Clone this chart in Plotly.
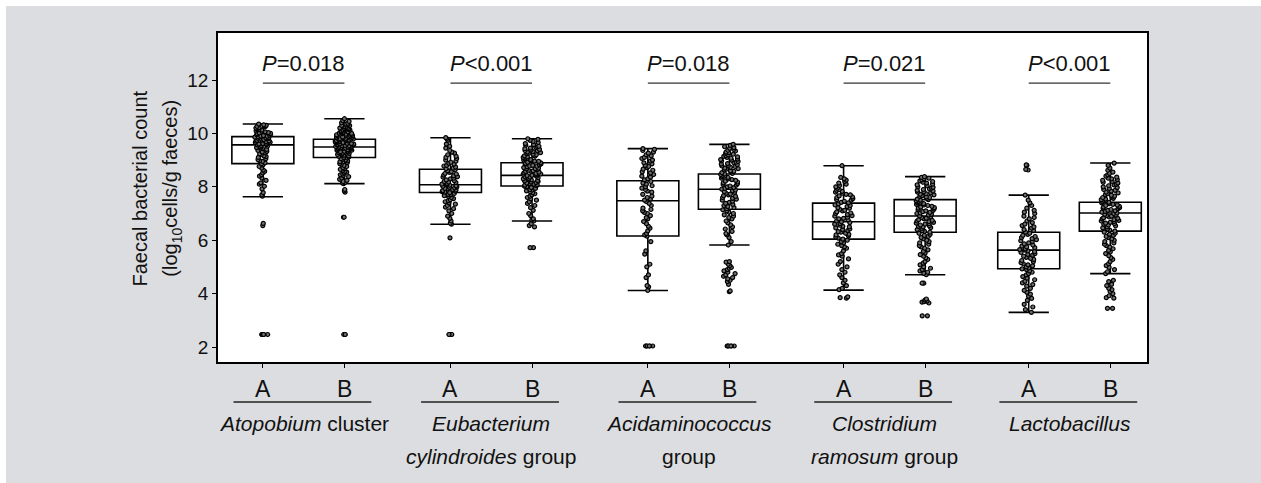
import plotly.graph_objects as go

# ---------------- data ----------------
groups = [
    ["<i>Atopobium</i> cluster"],
    ["<i>Eubacterium</i>", "<i>cylindroides</i> group"],
    ["<i>Acidaminococcus</i>", "group"],
    ["<i>Clostridium</i>", "<i>ramosum</i> group"],
    ["<i>Lactobacillus</i>"],
]
sub_labels = ["A", "B"]
p_texts = ["<i>P</i>=0.018", "<i>P</i>&lt;0.001", "<i>P</i>=0.018", "<i>P</i>=0.021", "<i>P</i>&lt;0.001"]
y_title = ["Faecal bacterial count", "(log<sub>10</sub>cells/g faeces)"]

# box statistics, order: A1, B1, A2, B2, ... A5, B5
q1 = [8.87, 9.10, 7.79, 8.03, 6.16, 7.16, 6.04, 6.30, 4.93, 6.34]
median = [9.57, 9.49, 8.08, 8.43, 7.48, 7.91, 6.69, 6.91, 5.63, 7.02]
q3 = [9.88, 9.78, 8.66, 8.90, 8.23, 8.48, 7.39, 7.52, 6.30, 7.42]
lowerfence = [7.63, 8.12, 6.60, 6.72, 4.12, 5.82, 4.13, 4.71, 3.30, 4.75]
upperfence = [10.35, 10.55, 9.84, 9.80, 9.43, 9.59, 8.79, 8.38, 7.69, 8.89]

a1 = [10.35, 10.32, 10.3, 10.28, 10.26, 10.25, 10.22, 10.2, 10.18, 10.15, 10.14, 10.12, 10.09, 10.08,
      10.06, 10.03, 10.02, 10.0, 9.99, 9.97, 9.95, 9.93, 9.92, 9.9, 9.89, 9.87, 9.86, 9.85, 9.83, 9.82,
      9.8, 9.79, 9.77, 9.75, 9.74, 9.72, 9.71, 9.69, 9.67, 9.66, 9.63, 9.62, 9.6, 9.58, 9.57, 9.55, 9.52,
      9.5, 9.47, 9.45, 9.43, 9.4, 9.36, 9.33, 9.3, 9.27, 9.23, 9.2, 9.16, 9.13, 9.1, 9.05, 9.02, 8.98,
      8.95, 8.9, 8.86, 8.82, 8.76, 8.7, 8.63, 8.58, 8.52, 8.45, 8.4, 8.33, 8.24, 8.15, 8.1, 8.02, 7.92,
      7.78, 7.7, 7.65, 6.63, 6.55, 2.47, 2.47, 2.47, 2.47, 2.47, 2.47]
b1 = [10.55, 10.48, 10.45, 10.4, 10.38, 10.35, 10.33, 10.3, 10.29, 10.27, 10.25, 10.23, 10.22, 10.2,
      10.18, 10.17, 10.15, 10.13, 10.12, 10.1, 10.09, 10.07, 10.06, 10.04, 10.03, 10.01, 10.0, 9.99,
      9.97, 9.96, 9.95, 9.93, 9.92, 9.91, 9.9, 9.88, 9.87, 9.86, 9.85, 9.84, 9.83, 9.82, 9.81, 9.8, 9.79,
      9.78, 9.77, 9.76, 9.75, 9.74, 9.73, 9.72, 9.71, 9.7, 9.69, 9.68, 9.67, 9.66, 9.65, 9.64, 9.63,
      9.62, 9.61, 9.6, 9.59, 9.58, 9.57, 9.56, 9.55, 9.54, 9.53, 9.52, 9.51, 9.5, 9.49, 9.48, 9.47, 9.46,
      9.45, 9.44, 9.43, 9.42, 9.4, 9.39, 9.37, 9.36, 9.34, 9.33, 9.31, 9.3, 9.28, 9.26, 9.25, 9.23, 9.21,
      9.2, 9.18, 9.16, 9.14, 9.12, 9.1, 9.08, 9.05, 9.03, 9.0, 8.97, 8.94, 8.9, 8.87, 8.84, 8.8, 8.76,
      8.72, 8.68, 8.65, 8.62, 8.58, 8.55, 8.52, 8.48, 8.45, 8.42, 8.38, 8.33, 8.28, 8.24, 8.2, 8.17,
      8.14, 8.12, 7.9, 7.85, 7.8, 6.86, 6.86, 2.47, 2.47, 2.47]
a2 = [9.84, 9.8, 9.74, 9.6, 9.52, 9.45, 9.36, 9.3, 9.26, 9.2, 9.14, 9.1, 9.06, 9.0, 8.96, 8.92, 8.88,
      8.85, 8.8, 8.78, 8.74, 8.7, 8.68, 8.64, 8.6, 8.57, 8.54, 8.5, 8.48, 8.44, 8.41, 8.38, 8.36, 8.32,
      8.3, 8.26, 8.23, 8.2, 8.18, 8.16, 8.13, 8.1, 8.09, 8.06, 8.04, 8.02, 8.0, 7.98, 7.96, 7.94, 7.92,
      7.9, 7.88, 7.86, 7.84, 7.82, 7.8, 7.78, 7.75, 7.72, 7.7, 7.67, 7.64, 7.6, 7.56, 7.52, 7.48, 7.44,
      7.4, 7.35, 7.3, 7.24, 7.18, 7.1, 7.0, 6.9, 6.82, 6.72, 6.64, 6.6, 6.09, 2.47, 2.47, 2.47, 2.47]
b2 = [9.8, 9.78, 9.74, 9.7, 9.66, 9.62, 9.58, 9.56, 9.52, 9.5, 9.48, 9.45, 9.43, 9.4, 9.38, 9.36, 9.35,
      9.32, 9.3, 9.28, 9.26, 9.24, 9.22, 9.2, 9.18, 9.16, 9.15, 9.12, 9.1, 9.08, 9.06, 9.05, 9.02, 9.0,
      8.98, 8.96, 8.95, 8.92, 8.9, 8.88, 8.86, 8.85, 8.82, 8.8, 8.78, 8.77, 8.75, 8.72, 8.7, 8.68, 8.67,
      8.65, 8.62, 8.6, 8.58, 8.57, 8.55, 8.52, 8.5, 8.48, 8.47, 8.45, 8.43, 8.42, 8.4, 8.38, 8.36, 8.34,
      8.32, 8.3, 8.28, 8.26, 8.24, 8.22, 8.2, 8.18, 8.16, 8.14, 8.12, 8.1, 8.08, 8.06, 8.04, 8.02, 8.0,
      7.97, 7.94, 7.9, 7.88, 7.85, 7.82, 7.78, 7.74, 7.7, 7.65, 7.6, 7.55, 7.5, 7.44, 7.38, 7.3, 7.22,
      7.12, 7.0, 6.92, 6.8, 6.76, 6.72, 6.62, 6.55, 6.5, 5.72, 5.72]
a3 = [9.43, 9.4, 9.36, 9.3, 9.26, 9.2, 9.16, 9.1, 9.06, 9.0, 8.96, 8.9, 8.86, 8.8, 8.76, 8.72, 8.66,
      8.62, 8.56, 8.52, 8.46, 8.4, 8.36, 8.3, 8.26, 8.2, 8.14, 8.1, 8.04, 8.0, 7.95, 7.9, 7.84, 7.8, 7.72,
      7.65, 7.6, 7.54, 7.5, 7.45, 7.38, 7.3, 7.2, 7.15, 7.1, 7.04, 7.0, 6.92, 6.85, 6.8, 6.7, 6.62, 6.52,
      6.45, 6.35, 6.25, 6.2, 6.15, 5.95, 5.6, 5.48, 5.1, 5.0, 4.7, 4.6, 4.3, 4.25, 4.12,
      2.04, 2.04, 2.04, 2.04, 2.04, 2.04]
b3 = [9.59, 9.55, 9.5, 9.47, 9.44, 9.4, 9.37, 9.34, 9.3, 9.28, 9.25, 9.22, 9.2, 9.17, 9.14, 9.12, 9.1,
      9.07, 9.04, 9.02, 9.0, 8.97, 8.95, 8.92, 8.9, 8.87, 8.85, 8.83, 8.8, 8.78, 8.76, 8.73, 8.7, 8.68,
      8.66, 8.63, 8.6, 8.58, 8.56, 8.53, 8.5, 8.48, 8.46, 8.43, 8.4, 8.38, 8.35, 8.32, 8.3, 8.27, 8.24,
      8.21, 8.18, 8.15, 8.12, 8.09, 8.06, 8.03, 8.0, 7.97, 7.94, 7.91, 7.88, 7.85, 7.82, 7.79, 7.76, 7.73,
      7.7, 7.67, 7.64, 7.6, 7.57, 7.54, 7.5, 7.46, 7.42, 7.38, 7.34, 7.3, 7.26, 7.22, 7.18, 7.14, 7.1,
      7.05, 7.0, 6.95, 6.9, 6.85, 6.8, 6.72, 6.65, 6.58, 6.5, 6.42, 6.33, 6.25, 6.2, 6.1, 5.95, 5.82,
      5.2, 5.18, 5.1, 5.05, 4.98, 4.95, 4.9, 4.85, 4.8, 4.75, 4.7, 4.65, 4.6, 4.55, 4.5, 4.45, 4.35,
      4.1, 4.07, 2.04, 2.04, 2.04, 2.04, 2.04, 2.04]
a4 = [8.79, 8.35, 8.3, 8.25, 8.2, 8.14, 8.1, 8.05, 8.0, 7.95, 7.9, 7.87, 7.83, 7.8, 7.76, 7.72, 7.7,
      7.66, 7.62, 7.6, 7.56, 7.52, 7.5, 7.46, 7.42, 7.4, 7.36, 7.32, 7.3, 7.26, 7.22, 7.2, 7.16, 7.12,
      7.1, 7.06, 7.02, 7.0, 6.96, 6.92, 6.9, 6.86, 6.82, 6.8, 6.76, 6.72, 6.69, 6.66, 6.62, 6.6, 6.56,
      6.52, 6.5, 6.46, 6.42, 6.4, 6.36, 6.32, 6.3, 6.26, 6.22, 6.2, 6.16, 6.12, 6.08, 6.04, 6.0, 5.95,
      5.9, 5.85, 5.8, 5.75, 5.7, 5.6, 5.5, 5.45, 5.4, 5.3, 5.2, 5.1, 5.0, 4.9, 4.8, 4.7, 4.6, 4.5, 4.4,
      4.3, 4.2, 4.15, 3.88, 3.85, 3.83]
b4 = [8.38, 8.35, 8.32, 8.3, 8.26, 8.22, 8.2, 8.17, 8.14, 8.1, 8.07, 8.04, 8.0, 7.98, 7.95, 7.92, 7.9,
      7.87, 7.84, 7.82, 7.8, 7.77, 7.74, 7.72, 7.7, 7.67, 7.64, 7.62, 7.6, 7.57, 7.54, 7.52, 7.5, 7.47,
      7.44, 7.42, 7.4, 7.37, 7.34, 7.32, 7.3, 7.27, 7.24, 7.22, 7.2, 7.17, 7.14, 7.12, 7.1, 7.07, 7.04,
      7.02, 7.0, 6.97, 6.94, 6.91, 6.88, 6.85, 6.82, 6.8, 6.77, 6.74, 6.72, 6.7, 6.67, 6.64, 6.62, 6.6,
      6.57, 6.54, 6.52, 6.5, 6.47, 6.44, 6.4, 6.36, 6.33, 6.3, 6.26, 6.22, 6.18, 6.14, 6.1, 6.05, 6.0,
      5.95, 5.9, 5.85, 5.8, 5.75, 5.7, 5.64, 5.58, 5.52, 5.46, 5.4, 5.34, 5.28, 5.2, 5.14, 5.08, 5.0,
      4.95, 4.9, 4.85, 4.8, 4.76, 4.71, 4.39, 4.39, 3.8, 3.76, 3.72, 3.7, 3.68, 3.65, 3.17, 3.17]
a5 = [8.82, 8.8, 8.65, 8.63, 7.69, 7.5, 7.4, 7.3, 7.2, 7.12, 7.05, 7.0, 6.9, 6.85, 6.8, 6.72, 6.66, 6.6,
      6.55, 6.5, 6.45, 6.4, 6.36, 6.3, 6.26, 6.22, 6.18, 6.14, 6.1, 6.06, 6.02, 5.98, 5.95, 5.9, 5.86,
      5.82, 5.78, 5.75, 5.72, 5.68, 5.65, 5.63, 5.6, 5.57, 5.54, 5.5, 5.47, 5.44, 5.4, 5.36, 5.32, 5.28,
      5.24, 5.2, 5.16, 5.12, 5.08, 5.04, 5.0, 4.96, 4.93, 4.9, 4.85, 4.8, 4.75, 4.7, 4.64, 4.58, 4.52,
      4.46, 4.4, 4.34, 4.28, 4.2, 4.12, 4.05, 3.98, 3.9, 3.82, 3.75, 3.6, 3.5, 3.4, 3.3]
b5 = [8.89, 8.8, 8.7, 8.62, 8.55, 8.5, 8.45, 8.4, 8.36, 8.32, 8.3, 8.27, 8.24, 8.2, 8.17, 8.14, 8.1,
      8.07, 8.04, 8.0, 7.97, 7.94, 7.9, 7.87, 7.84, 7.8, 7.77, 7.74, 7.7, 7.68, 7.65, 7.62, 7.6, 7.57,
      7.54, 7.52, 7.5, 7.47, 7.44, 7.42, 7.4, 7.37, 7.34, 7.32, 7.3, 7.27, 7.24, 7.22, 7.2, 7.18, 7.15,
      7.12, 7.1, 7.08, 7.05, 7.02, 7.0, 6.97, 6.94, 6.92, 6.9, 6.87, 6.84, 6.82, 6.8, 6.77, 6.74, 6.72,
      6.7, 6.67, 6.64, 6.62, 6.6, 6.57, 6.54, 6.5, 6.46, 6.42, 6.38, 6.34, 6.3, 6.26, 6.22, 6.18, 6.14,
      6.1, 6.05, 6.0, 5.95, 5.9, 5.85, 5.8, 5.74, 5.68, 5.62, 5.56, 5.5, 5.42, 5.35, 5.28, 5.2, 5.12,
      5.05, 4.98, 4.9, 4.82, 4.75, 4.5, 4.45, 4.35, 4.3, 4.2, 4.15, 4.08, 4.0, 3.92, 3.85, 3.83, 3.45,
      3.45]
samples = [a1, b1, a2, b2, a3, b3, a4, b4, a5, b5]

# ---------------- layout constants ----------------
FONT = "Liberation Sans, Arial, sans-serif"
GRAY = "#dcdde0"
GROUP_CENTERS = [0.0, 2.3, 4.72, 7.12, 9.39]
HALF = 0.5
BOX_W = 0.76
positions = []
for c in GROUP_CENTERS:
    positions += [c - HALF, c + HALF]

fig = go.Figure()

for i, pos in enumerate(positions):
    fig.add_trace(go.Box(
        x=[pos], q1=[q1[i]], median=[median[i]], q3=[q3[i]],
        lowerfence=[lowerfence[i]], upperfence=[upperfence[i]],
        orientation="v", width=BOX_W, whiskerwidth=0.65,
        line=dict(color="black", width=1.6), fillcolor="rgba(0,0,0,0)",
        boxpoints=False, showlegend=False, hoverinfo="skip",
    ))

for i, pos in enumerate(positions):
    vals = samples[i]
    fig.add_trace(go.Box(
        x=[pos] * len(vals), y=vals, orientation="v",
        boxpoints="all", jitter=0.3, pointpos=0, width=BOX_W, whiskerwidth=0,
        line=dict(color="rgba(0,0,0,0)", width=0), fillcolor="rgba(0,0,0,0)",
        marker=dict(size=4, color="#707070", line=dict(color="black", width=1.2)),
        showlegend=False,
    ))

shapes = [
    # thin white frame at the top and left edges of the page
    dict(type="rect", xref="paper", yref="paper", x0=-0.3, x1=1.2, y0=1.0821, y1=1.2,
         fillcolor="white", line=dict(width=0), layer="below"),
    dict(type="rect", xref="paper", yref="paper", x0=-0.3, x1=-0.2282, y0=-0.5, y1=1.2,
         fillcolor="white", line=dict(width=0), layer="below"),
    dict(type="rect", xref="paper", yref="paper", x0=0, x1=1, y0=0, y1=1,
         fillcolor="white", line=dict(width=0), layer="below"),
]
TXT = 21
annotations = []
for g, c in enumerate(GROUP_CENTERS):
    xa, xb = c - HALF, c + HALF
    # p-value bracket
    shapes.append(dict(type="line", xref="x", yref="y", x0=xa, x1=xb, y0=11.88, y1=11.88,
                       line=dict(color="#333333", width=1.3)))
    annotations.append(dict(x=c, y=12.63, xref="x", yref="y", text=p_texts[g], showarrow=False,
                            font=dict(size=22, color="#111111", family=FONT),
                            xanchor="center", yanchor="middle"))
    # A / B labels
    for k, xx in enumerate([xa, xb]):
        annotations.append(dict(x=xx, y=-0.082, xref="x", yref="paper", text=sub_labels[k],
                                showarrow=False, font=dict(size=23, color="#111111", family=FONT),
                                xanchor="center", yanchor="middle"))
    shapes.append(dict(type="line", xref="x", yref="paper", x0=xa - 0.36, x1=xb + 0.33,
                       y0=-0.1216, y1=-0.1216, line=dict(color="#222222", width=1.3)))
    for j, line in enumerate(groups[g]):
        annotations.append(dict(x=c, y=[-0.186, -0.287][j], xref="x", yref="paper", text=line,
                                showarrow=False, font=dict(size=TXT, color="#111111", family=FONT),
                                xanchor="center", yanchor="middle"))

for j, line in enumerate(y_title):
    annotations.append(dict(
        x=[-0.084, -0.0495][j], y=0.527, xref="paper", yref="paper", textangle=-90,
        text=line, showarrow=False, font=dict(size=20, color="#111111", family=FONT),
        xanchor="center", yanchor="middle"))

fig.update_layout(
    width=1261, height=483,
    margin=dict(l=218, r=114, t=33, b=121),
    paper_bgcolor=GRAY, plot_bgcolor="white",
    font=dict(family=FONT, color="#111111"),
    boxmode="overlay",
    shapes=shapes, annotations=annotations,
    xaxis=dict(range=[-1.05, 10.34], tickvals=positions, showticklabels=False,
               ticks="outside", ticklen=4, tickcolor="black", tickwidth=1,
               showline=True, mirror=True, linecolor="black", linewidth=1.6,
               showgrid=False, zeroline=False),
    yaxis=dict(range=[1.44, 13.76], tickvals=[2, 4, 6, 8, 10, 12],
               ticks="outside", ticklen=4, tickcolor="black", tickwidth=1,
               tickfont=dict(size=19, color="#111111", family=FONT),
               showline=True, mirror=True, linecolor="black", linewidth=1.6,
               showgrid=False, zeroline=False),
)

fig.write_html(
    "out.html",
    config={"displayModeBar": False},
    post_script=("document.body.style.margin='0';document.body.style.overflow='hidden';"
                 "document.body.style.background='" + GRAY + "';"),
)
